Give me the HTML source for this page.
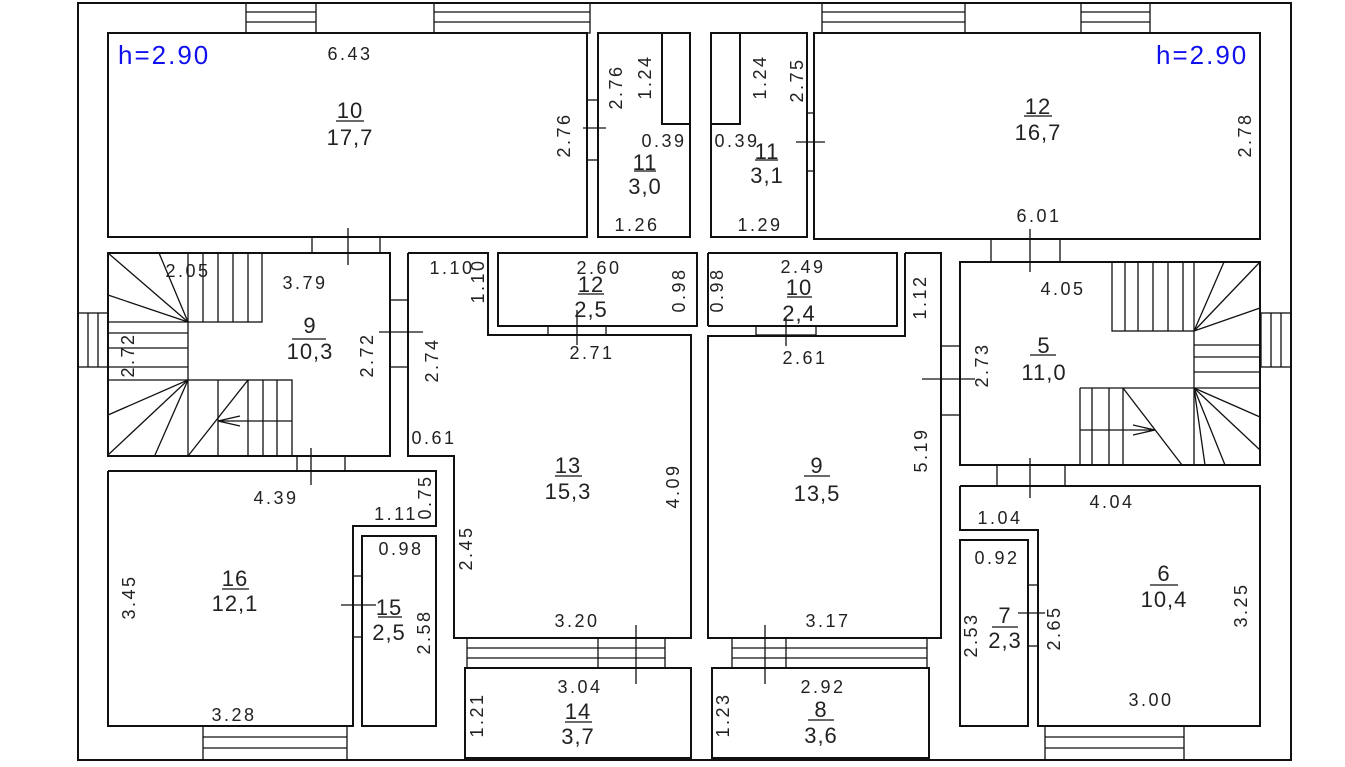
<!DOCTYPE html>
<html><head><meta charset="utf-8"><style>
html,body{margin:0;padding:0;background:#fff}
svg{display:block}
text{font-family:"Liberation Sans",sans-serif;fill:#222;font-size:18px;letter-spacing:2.5px;text-anchor:middle}
.n{font-size:22px;letter-spacing:1px}
.b{fill:#1010ee;font-size:26px;letter-spacing:2px;text-anchor:start}
</style></head><body>
<svg width="1345" height="767" viewBox="0 0 1345 767" xmlns="http://www.w3.org/2000/svg">
<g fill="none" stroke="#111" stroke-width="2">
<rect x="78" y="3" width="1213" height="757" stroke-width="2"/>
<rect x="108" y="33" width="479" height="204"/>
<rect x="598" y="33" width="92" height="204"/>
<rect x="662" y="33" width="28" height="91"/>
<rect x="711" y="33" width="96" height="204"/>
<rect x="711" y="33" width="29" height="91"/>
<rect x="814" y="33" width="446" height="206"/>
<rect x="108" y="253" width="282" height="203"/>
<polyline points="408,253 488,253 488,335 691,335 691,638 454,638 454,456 408,456 408,253"/>
<rect x="498" y="253" width="199" height="73"/>
<polyline points="708,253 897,253 897,326 708,326"/>
<polyline points="708,253 708,326"/>
<polyline points="905,253 941,253 941,638 708,638 708,336 905,336 905,253"/>
<rect x="960" y="262" width="300" height="203"/>
<polyline points="960,486 1260,486 1260,726 1038,726 1038,530 960,530 960,486"/>
<rect x="960" y="540" width="68" height="186"/>
<polyline points="108,471 436,471 436,526 353,526 353,726 108,726 108,471"/>
<rect x="362" y="536" width="74" height="190"/>
<rect x="465" y="668" width="226" height="90"/>
<rect x="712" y="668" width="217" height="90"/>
</g>
<g fill="none" stroke="#111" stroke-width="1.3">
<rect x="246" y="3" width="70" height="30"/><line x1="246" y1="12" x2="316" y2="12"/><line x1="246" y1="22" x2="316" y2="22"/>
<rect x="434" y="3" width="156" height="30"/><line x1="434" y1="12" x2="590" y2="12"/><line x1="434" y1="22" x2="590" y2="22"/>
<rect x="822" y="3" width="143" height="30"/><line x1="822" y1="12" x2="965" y2="12"/><line x1="822" y1="22" x2="965" y2="22"/>
<rect x="1081" y="3" width="69" height="30"/><line x1="1081" y1="12" x2="1150" y2="12"/><line x1="1081" y1="22" x2="1150" y2="22"/>
<rect x="78" y="313" width="30" height="54"/><line x1="88" y1="313" x2="88" y2="367"/><line x1="98" y1="313" x2="98" y2="367"/>
<rect x="1261" y="313" width="30" height="54"/><line x1="1271" y1="313" x2="1271" y2="367"/><line x1="1281" y1="313" x2="1281" y2="367"/>
<rect x="203" y="726" width="144" height="34"/><line x1="203" y1="737" x2="347" y2="737"/><line x1="203" y1="748" x2="347" y2="748"/>
<rect x="1045" y="726" width="139" height="34"/><line x1="1045" y1="737" x2="1184" y2="737"/><line x1="1045" y1="748" x2="1184" y2="748"/>
<rect x="467" y="638" width="198" height="30"/><line x1="467" y1="648" x2="665" y2="648"/><line x1="467" y1="658" x2="665" y2="658"/><line x1="598" y1="638" x2="598" y2="668"/>
<rect x="732" y="638" width="195" height="30"/><line x1="732" y1="648" x2="927" y2="648"/><line x1="732" y1="658" x2="927" y2="658"/><line x1="786" y1="638" x2="786" y2="668"/>
<rect x="312" y="237" width="68" height="16"/>
<rect x="297" y="456" width="48" height="15"/>
<rect x="390" y="300" width="18" height="67"/>
<rect x="991" y="239" width="69" height="23"/>
<rect x="997" y="465" width="68" height="21"/>
<rect x="941" y="346" width="19" height="69"/>
<rect x="587" y="100" width="11" height="60"/>
<rect x="807" y="113" width="7" height="58"/>
<rect x="548" y="326" width="58" height="9"/>
<rect x="756" y="326" width="60" height="9"/>
<rect x="353" y="576" width="9" height="61"/>
<rect x="1028" y="585" width="10" height="61"/>
<line x1="348" y1="228" x2="348" y2="265"/>
<line x1="583" y1="128" x2="606" y2="128"/>
<line x1="796" y1="142" x2="825" y2="142"/>
<line x1="1030" y1="229" x2="1030" y2="272"/>
<line x1="577" y1="310" x2="577" y2="345"/>
<line x1="786" y1="318" x2="786" y2="346"/>
<line x1="379" y1="332" x2="423" y2="332"/>
<line x1="922" y1="379" x2="975" y2="379"/>
<line x1="311" y1="448" x2="311" y2="485"/>
<line x1="1030" y1="458" x2="1030" y2="498"/>
<line x1="341" y1="605" x2="376" y2="605"/>
<line x1="1018" y1="613" x2="1045" y2="613"/>
<line x1="636" y1="625" x2="636" y2="684"/>
<line x1="765" y1="625" x2="765" y2="684"/>
<rect x="188" y="253" width="74" height="69"/>
<line x1="203" y1="253" x2="203" y2="322"/><line x1="218" y1="253" x2="218" y2="322"/><line x1="233" y1="253" x2="233" y2="322"/><line x1="248" y1="253" x2="248" y2="322"/>
<line x1="188" y1="322" x2="108" y2="253"/><line x1="188" y1="322" x2="159" y2="253"/><line x1="188" y1="322" x2="108" y2="295"/>
<line x1="108" y1="322" x2="188" y2="322"/><line x1="188" y1="322" x2="188" y2="380"/>
<line x1="108" y1="333" x2="188" y2="333"/><line x1="108" y1="348" x2="188" y2="348"/><line x1="108" y1="367" x2="188" y2="367"/>
<rect x="188" y="380" width="104" height="76"/>
<line x1="108" y1="380" x2="188" y2="380"/>
<line x1="188" y1="380" x2="108" y2="415"/><line x1="188" y1="380" x2="108" y2="455"/><line x1="188" y1="380" x2="155" y2="455"/>
<line x1="188" y1="456" x2="248" y2="380"/>
<line x1="218" y1="380" x2="218" y2="456"/><line x1="248" y1="380" x2="248" y2="456"/><line x1="263" y1="380" x2="263" y2="456"/><line x1="277" y1="380" x2="277" y2="456"/>
<line x1="218" y1="421" x2="292" y2="421"/><polyline points="240,416 218,421 240,426"/>
<rect x="1112" y="262" width="82" height="69"/>
<line x1="1125" y1="262" x2="1125" y2="331"/><line x1="1138" y1="262" x2="1138" y2="331"/><line x1="1153" y1="262" x2="1153" y2="331"/><line x1="1168" y1="262" x2="1168" y2="331"/><line x1="1183" y1="262" x2="1183" y2="331"/>
<line x1="1194" y1="331" x2="1260" y2="262"/><line x1="1194" y1="331" x2="1224" y2="262"/><line x1="1194" y1="331" x2="1260" y2="308"/>
<line x1="1194" y1="331" x2="1194" y2="465"/>
<line x1="1194" y1="345" x2="1260" y2="345"/><line x1="1194" y1="357" x2="1260" y2="357"/><line x1="1194" y1="372" x2="1260" y2="372"/><line x1="1080" y1="388" x2="1260" y2="388"/>
<line x1="1194" y1="388" x2="1260" y2="417"/><line x1="1194" y1="388" x2="1260" y2="450"/><line x1="1194" y1="388" x2="1225" y2="465"/><line x1="1194" y1="388" x2="1205" y2="465"/>
<line x1="1080" y1="388" x2="1080" y2="465"/><line x1="1092" y1="388" x2="1092" y2="465"/><line x1="1109" y1="388" x2="1109" y2="465"/><line x1="1123" y1="388" x2="1123" y2="465"/>
<line x1="1123" y1="388" x2="1182" y2="465"/>
<line x1="1080" y1="430" x2="1155" y2="430"/><polyline points="1133,425 1155,430 1133,435"/>
<line x1="336" y1="121" x2="364" y2="121"/><line x1="634" y1="171" x2="656" y2="171"/><line x1="755" y1="160" x2="778" y2="160"/>
<line x1="1024" y1="116" x2="1052" y2="116"/><line x1="292" y1="339" x2="326" y2="339"/>
<line x1="578" y1="294" x2="604" y2="294"/><line x1="787" y1="297" x2="812" y2="297"/>
<line x1="1030" y1="355" x2="1056" y2="355"/><line x1="555" y1="476" x2="582" y2="476"/>
<line x1="804" y1="476" x2="830" y2="476"/><line x1="222" y1="589" x2="249" y2="589"/>
<line x1="378" y1="617" x2="402" y2="617"/><line x1="565" y1="722" x2="592" y2="722"/>
<line x1="808" y1="720" x2="834" y2="720"/><line x1="1150" y1="585" x2="1178" y2="585"/>
<line x1="992" y1="627" x2="1018" y2="627"/>
</g>
<text class="b" x="118" y="64">h=2.90</text>
<text class="b" x="1156" y="64">h=2.90</text>
<text x="350" y="60">6.43</text>
<text class="n" x="350" y="118">10</text><text class="n" x="350" y="145">17,7</text>
<text x="637" y="231">1.26</text><text x="664" y="147">0.39</text>
<text class="n" x="645" y="170">11</text><text class="n" x="645" y="194">3,0</text>
<text x="737" y="147">0.39</text><text x="760" y="231">1.29</text>
<text class="n" x="767" y="159">11</text><text class="n" x="767" y="183">3,1</text>
<text class="n" x="1038" y="114">12</text><text class="n" x="1038" y="140">16,7</text>
<text x="1039" y="222">6.01</text>
<text x="188" y="277">2.05</text><text x="305" y="289">3.79</text>
<text class="n" x="310" y="333">9</text><text class="n" x="310" y="359">10,3</text>
<text x="452" y="274">1.10</text><text x="599" y="274">2.60</text>
<text class="n" x="591" y="292">12</text><text class="n" x="591" y="317">2,5</text>
<text x="592" y="359">2.71</text>
<text x="803" y="273">2.49</text>
<text class="n" x="799" y="295">10</text><text class="n" x="799" y="321">2,4</text>
<text x="805" y="364">2.61</text>
<text x="1063" y="295">4.05</text>
<text class="n" x="1044" y="353">5</text><text class="n" x="1044" y="380">11,0</text>
<text x="434" y="444">0.61</text>
<text class="n" x="568" y="473">13</text><text class="n" x="568" y="499">15,3</text>
<text x="577" y="627">3.20</text>
<text class="n" x="817" y="473">9</text><text class="n" x="817" y="501">13,5</text>
<text x="828" y="627">3.17</text>
<text x="276" y="504">4.39</text><text x="396" y="520">1.11</text>
<text class="n" x="235" y="586">16</text><text class="n" x="235" y="611">12,1</text>
<text x="401" y="555">0.98</text>
<text class="n" x="389" y="615">15</text><text class="n" x="389" y="640">2,5</text>
<text x="234" y="721">3.28</text>
<text x="580" y="693">3.04</text>
<text class="n" x="578" y="719">14</text><text class="n" x="578" y="744">3,7</text>
<text x="823" y="693">2.92</text>
<text class="n" x="821" y="717">8</text><text class="n" x="821" y="743">3,6</text>
<text x="1112" y="508">4.04</text><text x="1000" y="524">1.04</text><text x="997" y="564">0.92</text>
<text class="n" x="1164" y="581">6</text><text class="n" x="1164" y="607">10,4</text>
<text class="n" x="1005" y="623">7</text><text class="n" x="1005" y="648">2,3</text>
<text x="1151" y="706">3.00</text>
<g>
<text transform="translate(570,135) rotate(-90)">2.76</text>
<text transform="translate(622,87) rotate(-90)">2.76</text>
<text transform="translate(651,77) rotate(-90)">1.24</text>
<text transform="translate(766,77) rotate(-90)">1.24</text>
<text transform="translate(803,80) rotate(-90)">2.75</text>
<text transform="translate(1251,135) rotate(-90)">2.78</text>
<text transform="translate(134,355) rotate(-90)">2.72</text>
<text transform="translate(373,355) rotate(-90)">2.72</text>
<text transform="translate(438,360) rotate(-90)">2.74</text>
<text transform="translate(484,281) rotate(-90)">1.10</text>
<text transform="translate(685,290) rotate(-90)">0.98</text>
<text transform="translate(723,290) rotate(-90)">0.98</text>
<text transform="translate(926,297) rotate(-90)">1.12</text>
<text transform="translate(988,365) rotate(-90)">2.73</text>
<text transform="translate(679,486) rotate(-90)">4.09</text>
<text transform="translate(927,450) rotate(-90)">5.19</text>
<text transform="translate(472,548) rotate(-90)">2.45</text>
<text transform="translate(431,497) rotate(-90)">0.75</text>
<text transform="translate(135,597) rotate(-90)">3.45</text>
<text transform="translate(430,632) rotate(-90)">2.58</text>
<text transform="translate(483,715) rotate(-90)">1.21</text>
<text transform="translate(729,715) rotate(-90)">1.23</text>
<text transform="translate(1247,605) rotate(-90)">3.25</text>
<text transform="translate(977,635) rotate(-90)">2.53</text>
<text transform="translate(1060,628) rotate(-90)">2.65</text>
</g>
</svg>
</body></html>
